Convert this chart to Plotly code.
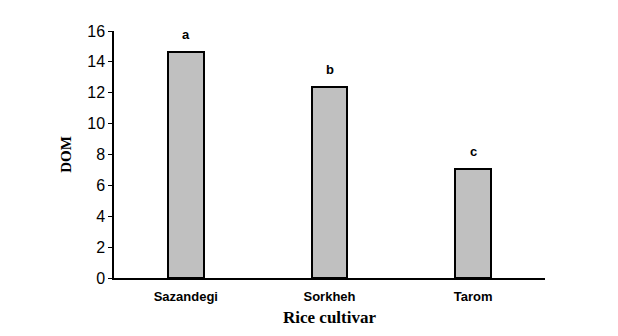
import plotly.graph_objects as go

cultivars = ["Sazandegi", "Sorkheh", "Tarom"]
dom = [14.62, 12.35, 7.04]
letters = ["a", "b", "c"]
y_ticks = [0, 2, 4, 6, 8, 10, 12, 14, 16]

fig = go.Figure()
fig.add_trace(go.Bar(
    x=cultivars, y=dom, width=0.25,
    marker=dict(color="#c0c0c0", line=dict(color="black", width=2)),
))
for c, v, l in zip(cultivars, dom, letters):
    fig.add_annotation(x=c, y=v, text="<b>" + l + "</b>", showarrow=False,
                       yshift=18, font=dict(family="Liberation Sans, Arial", size=13, color="black"))

fig.update_layout(
    width=618, height=336,
    margin=dict(l=114, r=73, t=31, b=58),
    paper_bgcolor="white", plot_bgcolor="white",
    showlegend=False,
    bargap=0,
)
fig.update_xaxes(
    range=[-0.5, 2.5], showline=True, linecolor="black", linewidth=1.5,
    ticks="", showgrid=False, zeroline=False,
    tickfont=dict(family="Liberation Sans, Arial", size=13, color="black"),
    tickvals=cultivars, ticktext=["<b>" + c + "</b>" for c in cultivars],
    ticklabelstandoff=6,
    title=dict(text="<b>Rice cultivar</b>", font=dict(family="Liberation Serif, Times New Roman", size=17, color="black"), standoff=8),
)
fig.update_yaxes(
    range=[0, 16], tickvals=y_ticks, showline=True, linecolor="black", linewidth=1.5,
    ticks="outside", ticklen=4, tickcolor="black", showgrid=False, zeroline=False,
    tickfont=dict(family="Liberation Sans, Arial", size=16, color="black"),
    title=dict(text="<b>DOM</b>", font=dict(family="Liberation Serif, Times New Roman", size=15, color="black"), standoff=12),
)
fig.write_html("out.html")
